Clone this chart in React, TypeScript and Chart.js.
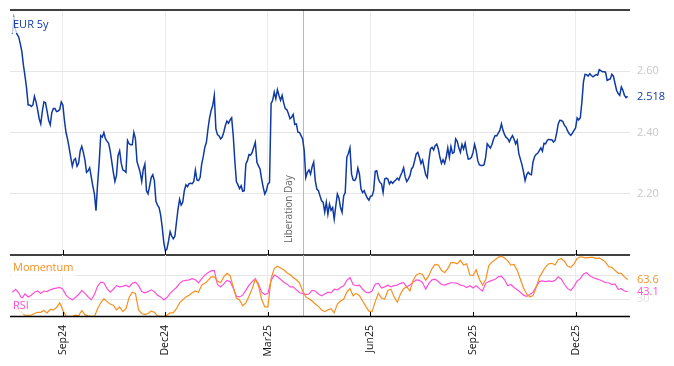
import React, { useEffect, useRef } from 'react';
import { Chart, registerables } from 'chart.js';

Chart.register(...registerables);

// ---------- data ----------
const START_DATE = '2024-07-18'; // first business day shown
const EVENT_DATE = '2025-04-02';
const EVENT_LABEL = 'Liberation Day';
const SERIES_LABEL = 'EUR 5y';
const MOMENTUM_LABEL = 'Momentum';
const RSI_LABEL = 'RSI';
const MONTH_NAMES = ['Jan', 'Feb', 'Mar', 'Apr', 'May', 'Jun', 'Jul', 'Aug', 'Sep', 'Oct', 'Nov', 'Dec'];
const TICK_MONTHS = [2, 5, 8, 11]; // Mar, Jun, Sep, Dec
const Y_TICKS_MAIN = [2.2, 2.4, 2.6];
const Y_TICKS_LOWER = [30, 70];
const Y_LABELS_LOWER = [30];

// daily (business-day) EUR 5y rate
const eur5y = [
  2.723, 2.77, 2.735, 2.72, 2.712, 2.69, 2.665, 2.62, 2.585, 2.545,
  2.49, 2.49, 2.485, 2.49, 2.518, 2.5, 2.475, 2.445, 2.428, 2.47,
  2.5, 2.497, 2.47, 2.44, 2.425, 2.465, 2.478, 2.478, 2.468, 2.47,
  2.475, 2.5, 2.49, 2.44, 2.4, 2.378, 2.35, 2.319, 2.29, 2.31,
  2.315, 2.29, 2.3, 2.34, 2.355, 2.335, 2.31, 2.27, 2.275, 2.285,
  2.255, 2.225, 2.2, 2.145, 2.23, 2.3, 2.39, 2.385, 2.4, 2.38,
  2.372, 2.365, 2.34, 2.305, 2.27, 2.24, 2.26, 2.325, 2.34, 2.3,
  2.278, 2.275, 2.27, 2.374, 2.363, 2.36, 2.36, 2.4, 2.38, 2.305,
  2.288, 2.27, 2.24, 2.28, 2.297, 2.21, 2.2, 2.225, 2.253, 2.262,
  2.243, 2.175, 2.163, 2.155, 2.13, 2.09, 2.04, 2.013, 2.02, 2.046,
  2.076, 2.062, 2.053, 2.061, 2.106, 2.15, 2.182, 2.163, 2.172, 2.21,
  2.229, 2.223, 2.233, 2.234, 2.233, 2.24, 2.277, 2.245, 2.243, 2.253,
  2.297, 2.321, 2.352, 2.368, 2.412, 2.448, 2.472, 2.488, 2.521, 2.412,
  2.393, 2.389, 2.379, 2.385, 2.401, 2.423, 2.437, 2.43, 2.441, 2.448,
  2.39, 2.308, 2.24, 2.229, 2.217, 2.226, 2.208, 2.21, 2.297, 2.308,
  2.328, 2.326, 2.335, 2.352, 2.368, 2.303, 2.291, 2.281, 2.248, 2.221,
  2.199, 2.21, 2.232, 2.237, 2.494, 2.505, 2.532, 2.51, 2.54, 2.521,
  2.505, 2.521, 2.496, 2.478, 2.474, 2.461, 2.445, 2.45, 2.459, 2.426,
  2.428, 2.401, 2.4, 2.39, 2.379, 2.341, 2.253, 2.27, 2.278, 2.264,
  2.288, 2.303, 2.243, 2.215, 2.21, 2.193, 2.177, 2.172, 2.14, 2.172,
  2.133, 2.166, 2.146, 2.155, 2.117, 2.16, 2.199, 2.186, 2.155, 2.139,
  2.193, 2.204, 2.319, 2.332, 2.35, 2.264, 2.245, 2.243, 2.253, 2.284,
  2.264, 2.215, 2.204, 2.21, 2.197, 2.186, 2.179, 2.192, 2.193, 2.21,
  2.273, 2.275, 2.248, 2.237, 2.232, 2.204, 2.248, 2.251, 2.248, 2.232,
  2.24, 2.234, 2.24, 2.245, 2.251, 2.245, 2.259, 2.27, 2.285, 2.255,
  2.24, 2.248, 2.259, 2.281, 2.288, 2.308, 2.33, 2.335, 2.319, 2.299,
  2.31, 2.286, 2.262, 2.253, 2.308, 2.346, 2.352, 2.343, 2.357, 2.362,
  2.346, 2.319, 2.299, 2.311, 2.299, 2.319, 2.35, 2.319, 2.354, 2.332,
  2.335, 2.379, 2.371, 2.35, 2.335, 2.361, 2.346, 2.365, 2.335, 2.313,
  2.314, 2.319, 2.335, 2.361, 2.341, 2.308, 2.295, 2.292, 2.292, 2.295,
  2.319, 2.363, 2.356, 2.349, 2.361, 2.378, 2.39, 2.389, 2.398, 2.407,
  2.428, 2.407, 2.393, 2.384, 2.38, 2.37, 2.381, 2.39, 2.379, 2.363,
  2.374, 2.332, 2.313, 2.295, 2.271, 2.243, 2.262, 2.27, 2.264, 2.262,
  2.303, 2.321, 2.329, 2.332, 2.341, 2.35, 2.339, 2.365, 2.363, 2.374,
  2.378, 2.376, 2.376, 2.369, 2.374, 2.398, 2.428, 2.44, 2.439, 2.435,
  2.423, 2.417, 2.404, 2.396, 2.391, 2.398, 2.407, 2.415, 2.448, 2.441,
  2.448, 2.499, 2.565, 2.59, 2.589, 2.584, 2.592, 2.586, 2.582, 2.586,
  2.589, 2.587, 2.605, 2.602, 2.598, 2.598, 2.597, 2.57, 2.573, 2.575,
  2.59, 2.584, 2.56, 2.538, 2.527, 2.521, 2.549, 2.538, 2.521, 2.514,
  2.518,
];

// indicators, sampled every second business day
const INDICATOR_STEP = 2;
const rsi = [
  42, 47, 41, 31, 39, 34, 37, 42, 44, 40,
  44, 43, 46, 48, 49, 50, 47, 37, 32, 29,
  33, 38, 45, 40, 34, 29, 38, 52, 59, 58,
  48, 42, 47, 53, 51, 52, 54, 51, 57, 59,
  53, 43, 41, 43, 46, 43, 37, 34, 29, 33,
  40, 45, 50, 57, 61, 62, 63, 65, 63, 58,
  65, 71, 75, 78, 79, 55, 51, 56, 62, 60,
  49, 35, 34, 37, 45, 54, 60, 65, 56, 42,
  38, 40, 62, 71, 68, 64, 59, 56, 51, 51,
  46, 41, 40, 38, 39, 45, 44, 39, 36, 39,
  42, 41, 47, 46, 50, 53, 62, 67, 55, 53,
  54, 47, 42, 41, 44, 56, 57, 49, 51, 54,
  51, 53, 54, 57, 58, 51, 54, 59, 63, 62,
  58, 47, 57, 63, 64, 60, 55, 54, 56, 58,
  58, 57, 54, 53, 50, 53, 49, 53, 48, 44,
  57, 60, 62, 64, 68, 69, 63, 53, 55, 50,
  46, 42, 37, 35, 38, 42, 51, 60, 61, 60,
  61, 60, 62, 68, 64, 55, 48, 45, 52, 61,
  65, 73, 75, 70, 67, 65, 63, 61, 58, 58,
  55, 56, 47, 48, 44, 43.1,
];
const momentum = [
  17, 14, 12, 7, 3, 3, 3, 6, 8, 8,
  11, 7, 13, 12, 16, 24, 12, 1, 1, 1,
  3, 2, 11, 4, 2, 1, 1, 14, 24, 31,
  26, 22, 20, 12, 17, 9, 14, 33, 42, 40,
  12, 6, 4, 6, 10, 8, 2, 1, 1, 3,
  7, 7, 14, 24, 29, 34, 37, 41, 44, 42,
  54, 57, 62, 68, 68, 61, 58, 68, 74, 70,
  51, 32, 29, 19, 24, 35, 48, 64, 53, 30,
  17, 17, 65, 82, 86, 83, 80, 75, 72, 67,
  63, 58, 44, 34, 31, 27, 22, 18, 12, 9,
  12, 14, 7, 22, 27, 30, 42, 48, 36, 40,
  36, 27, 18, 10, 9, 26, 40, 32, 30, 45,
  47, 34, 25, 39, 48, 51, 44, 62, 71, 74,
  72, 62, 70, 82, 89, 88, 79, 75, 82, 92,
  92, 90, 96, 88, 90, 71, 70, 80, 64, 54,
  63, 87, 93, 97, 101, 103, 100, 95, 88, 89,
  79, 64, 49, 39, 34, 36, 50, 67, 76, 85,
  90, 91, 88, 97, 99, 94, 86, 84, 90, 99,
  102, 101, 100, 101, 101, 99, 100, 97, 93, 85,
  84, 79, 74, 74, 68, 63.6,
];

// ---------- styling ----------
const W = 674;
const H = 366;
const BLUE = '#0f3aa3';
const ORANGE = '#f7901e';
const PINK = '#ff4fd6';
const FONT = '"Open Sans", "DejaVu Sans", sans-serif';

// ---------- derived ----------
function businessDays(startIso: string, n: number): Date[] {
  const out: Date[] = [];
  const d = new Date(startIso + 'T00:00:00Z');
  while (out.length < n) {
    const wd = d.getUTCDay();
    if (wd !== 0 && wd !== 6) out.push(new Date(d.getTime()));
    d.setUTCDate(d.getUTCDate() + 1);
  }
  return out;
}
const dates = businessDays(START_DATE, eur5y.length);
const iso = (d: Date) => d.toISOString().slice(0, 10);
const tickIdx: number[] = [];
const tickLabel: Record<number, string> = {};
dates.forEach((d, i) => {
  if (i === 0) return;
  const m = d.getUTCMonth();
  if (m !== dates[i - 1].getUTCMonth() && TICK_MONTHS.includes(m)) {
    tickIdx.push(i);
    tickLabel[i] = MONTH_NAMES[m] + String(d.getUTCFullYear() % 100).padStart(2, '0');
  }
});
const eventIdx = dates.findIndex((d) => iso(d) === EVENT_DATE);
const X_MIN = -1.5;
const X_MAX = eur5y.length - 1 + 1.5;

function strokeLine(ctx: CanvasRenderingContext2D, x1: number, y1: number, x2: number, y2: number) {
  ctx.beginPath();
  ctx.moveTo(x1, y1);
  ctx.lineTo(x2, y2);
  ctx.stroke();
}

function labelWithBg(ctx: CanvasRenderingContext2D, text: string, x: number, y: number, color: string) {
  ctx.font = '11px ' + FONT;
  ctx.textAlign = 'left';
  ctx.textBaseline = 'middle';
  const w = ctx.measureText(text).width;
  ctx.fillStyle = 'rgba(255,255,255,0.75)';
  ctx.fillRect(x - 2, y - 8, w + 4, 16);
  ctx.fillStyle = color;
  ctx.fillText(text, x, y);
}

const topPlugin = {
  id: 'topDecor',
  beforeDatasetsDraw(chart: any) {
    const { ctx, chartArea: a, scales } = chart;
    const ex = Math.round(scales.x.getPixelForValue(eventIdx)) + 0.5;
    ctx.save();
    ctx.strokeStyle = '#b8b8b8';
    ctx.lineWidth = 1;
    strokeLine(ctx, ex, a.top, ex, a.bottom);
    ctx.restore();
  },
  afterDraw(chart: any) {
    const { ctx, chartArea: a, scales } = chart;
    ctx.save();
    ctx.strokeStyle = '#000';
    ctx.lineWidth = 1.3;
    strokeLine(ctx, a.left, a.top, a.right, a.top);
    strokeLine(ctx, a.left, a.bottom, a.right, a.bottom);
    ctx.lineWidth = 1;
    for (const t of scales.x.ticks) {
      const x = Math.round(scales.x.getPixelForValue(t.value)) + 0.5;
      strokeLine(ctx, x, a.bottom - 5, x, a.bottom);
    }
    // event label
    const ex = scales.x.getPixelForValue(eventIdx);
    ctx.save();
    ctx.translate(ex - 13, a.bottom - 12);
    ctx.rotate(-Math.PI / 2);
    ctx.font = '10px ' + FONT;
    ctx.fillStyle = '#666';
    ctx.textAlign = 'left';
    ctx.textBaseline = 'middle';
    ctx.fillText(EVENT_LABEL, 0, 0);
    ctx.restore();
    // series label
    labelWithBg(ctx, SERIES_LABEL, a.left + 3, a.top + 15, BLUE);
    // last value
    const last = eur5y[eur5y.length - 1];
    ctx.font = '11px ' + FONT;
    ctx.fillStyle = BLUE;
    ctx.textAlign = 'left';
    ctx.textBaseline = 'middle';
    ctx.fillText(last.toFixed(3), a.right + 7, scales.y.getPixelForValue(last));
    ctx.restore();
  },
};

const bottomPlugin = {
  id: 'bottomDecor',
  beforeDatasetsDraw(chart: any) {
    const { ctx, chartArea: a, scales } = chart;
    const ex = Math.round(scales.x.getPixelForValue(eventIdx)) + 0.5;
    ctx.save();
    ctx.strokeStyle = '#b8b8b8';
    ctx.lineWidth = 1;
    strokeLine(ctx, ex, a.top, ex, a.bottom);
    ctx.restore();
  },
  afterDraw(chart: any) {
    const { ctx, chartArea: a, scales } = chart;
    ctx.save();
    ctx.strokeStyle = '#000';
    ctx.lineWidth = 1.3;
    strokeLine(ctx, a.left, a.bottom - 0.5, a.right, a.bottom - 0.5);
    ctx.lineWidth = 1;
    for (const t of scales.x.ticks) {
      const x = Math.round(scales.x.getPixelForValue(t.value)) + 0.5;
      strokeLine(ctx, x, a.bottom - 5, x, a.bottom);
    }
    labelWithBg(ctx, MOMENTUM_LABEL, a.left + 3, a.top + 13, ORANGE);
    labelWithBg(ctx, RSI_LABEL, a.left + 3, a.bottom - 11, PINK);
    const lm = momentum[momentum.length - 1];
    const lr = rsi[rsi.length - 1];
    ctx.font = '11px ' + FONT;
    ctx.textAlign = 'left';
    ctx.textBaseline = 'middle';
    ctx.fillStyle = ORANGE;
    ctx.fillText(lm.toFixed(1), a.right + 7, scales.y.getPixelForValue(lm));
    ctx.fillStyle = PINK;
    ctx.fillText(lr.toFixed(1), a.right + 7, scales.y.getPixelForValue(lr));
    ctx.restore();
  },
};

export default function App() {
  const topRef = useRef<HTMLCanvasElement>(null);
  const botRef = useRef<HTMLCanvasElement>(null);

  useEffect(() => {
    const xBase = {
      type: 'linear' as const,
      min: X_MIN,
      max: X_MAX,
      afterBuildTicks: (s: any) => {
        s.ticks = tickIdx.map((v) => ({ value: v }));
      },
      grid: { color: '#ececec', drawTicks: false },
      border: { display: false },
    };

    const top = new Chart(topRef.current!, {
      type: 'line',
      data: {
        datasets: [
          {
            data: eur5y.map((v, i) => ({ x: i, y: v })),
            borderColor: BLUE,
            borderWidth: 1.5,
            pointRadius: 0,
            tension: 0,
          },
        ],
      },
      options: {
        animation: false,
        responsive: false,
        devicePixelRatio: 1,
        events: [],
        layout: { padding: { left: 10, top: 10, right: 0, bottom: H - 255 } },
        plugins: { legend: { display: false }, tooltip: { enabled: false } },
        scales: {
          x: {
            ...xBase,
            ticks: { display: false },
            afterFit: (s: any) => {
              s.height = 0;
            },
          },
          y: {
            position: 'right',
            min: 2.0,
            max: 2.8,
            afterBuildTicks: (s: any) => {
              s.ticks = Y_TICKS_MAIN.map((v) => ({ value: v }));
            },
            ticks: {
              color: '#c8c8c8',
              font: { family: FONT, size: 11 },
              padding: 3,
              callback: (v: any) => Number(v).toFixed(2),
            },
            grid: { color: '#e6e6e6', drawTicks: true, tickLength: 4, tickColor: 'rgba(0,0,0,0)' },
            border: { display: false },
            afterFit: (s: any) => {
              s.width = 44;
            },
          },
        },
      },
      plugins: [topPlugin],
    } as any);

    const bottom = new Chart(botRef.current!, {
      type: 'line',
      data: {
        datasets: [
          {
            data: momentum.map((v, k) => ({ x: k * INDICATOR_STEP, y: v })),
            borderColor: ORANGE,
            borderWidth: 1.2,
            pointRadius: 0,
            tension: 0,
          },
          {
            data: rsi.map((v, k) => ({ x: k * INDICATOR_STEP, y: v })),
            borderColor: PINK,
            borderWidth: 1.2,
            pointRadius: 0,
            tension: 0,
          },
        ],
      },
      options: {
        animation: false,
        responsive: false,
        devicePixelRatio: 1,
        events: [],
        layout: { padding: { left: 10, top: 255, right: 0, bottom: 0 } },
        plugins: { legend: { display: false }, tooltip: { enabled: false } },
        scales: {
          x: {
            ...xBase,
            ticks: {
              autoSkip: false,
              maxRotation: 90,
              minRotation: 90,
              padding: 8,
              color: '#111',
              font: { family: FONT, size: 10.5 },
              callback: (v: any) => tickLabel[v] ?? '',
            },
            afterFit: (s: any) => {
              s.height = H - 317;
            },
          },
          y: {
            position: 'right',
            min: 0,
            max: 105,
            afterBuildTicks: (s: any) => {
              s.ticks = Y_TICKS_LOWER.map((v) => ({ value: v }));
            },
            ticks: {
              color: '#e2e2e2',
              font: { family: FONT, size: 11 },
              padding: 7,
              callback: (v: any) => (Y_LABELS_LOWER.includes(Number(v)) ? String(v) : ''),
            },
            grid: { color: '#e6e6e6', drawTicks: false },
            border: { display: false },
            afterFit: (s: any) => {
              s.width = 44;
            },
          },
        },
      },
      plugins: [bottomPlugin],
    } as any);

    return () => {
      top.destroy();
      bottom.destroy();
    };
  }, []);

  const cv: React.CSSProperties = { position: 'absolute', left: 0, top: 0, width: W, height: H };
  return (
    <div style={{ position: 'absolute', left: 0, top: 0, width: W, height: H, background: '#fff' }}>
      <canvas ref={topRef} width={W} height={H} style={cv} />
      <canvas ref={botRef} width={W} height={H} style={cv} />
    </div>
  );
}
